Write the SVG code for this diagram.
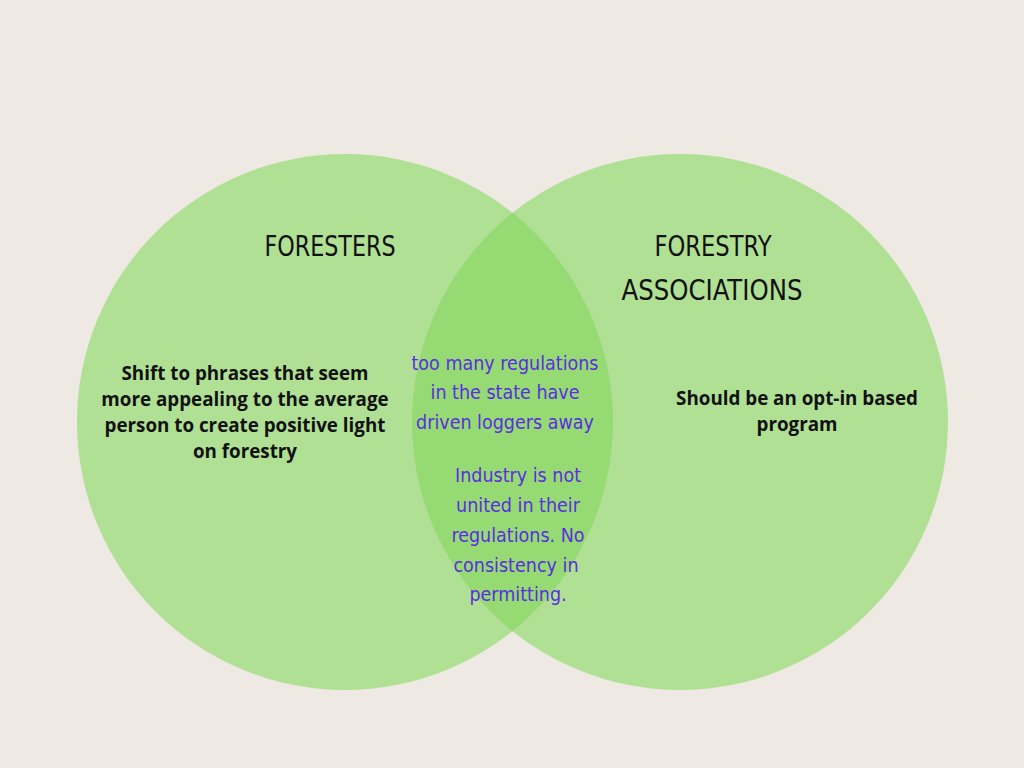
<svg xmlns="http://www.w3.org/2000/svg" width="1024" height="768" viewBox="0 0 1024 768">
  <defs>
    <clipPath id="clip-left">
      <circle cx="345" cy="422" r="268"/>
    </clipPath>
    <style>
      .set { fill: #b0e094; }
      .overlap { fill: #95da72; }
      .title { font-family: "DejaVu Sans Condensed", "DejaVu Sans", sans-serif; font-size: 28px; fill: #111; text-anchor: middle; }
      .body { font-family: "Open Sans", "Liberation Sans", sans-serif; font-weight: bold; font-size: 18.8px; fill: #111; text-anchor: middle; }
      .note { font-family: "DejaVu Sans Condensed", "DejaVu Sans", sans-serif; font-size: 19.5px; fill: #5b2ee0; text-anchor: middle; }
    </style>
  </defs>

  <rect width="1024" height="768" fill="#eee9e2"/>

  <g id="foresters">
    <circle class="set" cx="345" cy="422" r="268"/>
  </g>
  <g id="forestry-associations">
    <circle class="set" cx="680" cy="422" r="268"/>
  </g>
  <g id="shared">
    <circle class="overlap" cx="680" cy="422" r="268" clip-path="url(#clip-left)"/>
  </g>

  <g id="foresters-text">
    <text class="title" x="330" y="256" textLength="131" lengthAdjust="spacingAndGlyphs">FORESTERS</text>
    <text class="body" x="245" y="380">Shift to phrases that seem</text>
    <text class="body" x="245" y="406">more appealing to the average</text>
    <text class="body" x="245" y="432">person to create positive light</text>
    <text class="body" x="245" y="458">on forestry</text>
  </g>

  <g id="associations-text">
    <text class="title" x="713" y="256" textLength="117" lengthAdjust="spacingAndGlyphs">FORESTRY</text>
    <text class="title" x="712" y="300" textLength="181" lengthAdjust="spacingAndGlyphs">ASSOCIATIONS</text>
    <text class="body" x="797" y="405">Should be an opt-in based</text>
    <text class="body" x="797" y="431">program</text>
  </g>

  <g id="shared-text">
    <text class="note" x="505" y="370">too many regulations</text>
    <text class="note" x="505" y="399">in the state have</text>
    <text class="note" x="505" y="429">driven loggers away</text>
    <text class="note" x="518" y="482">Industry is not</text>
    <text class="note" x="518" y="512">united in their</text>
    <text class="note" x="518" y="542">regulations. No</text>
    <text class="note" x="516" y="572">consistency in</text>
    <text class="note" x="518" y="601">permitting.</text>
  </g>
</svg>
